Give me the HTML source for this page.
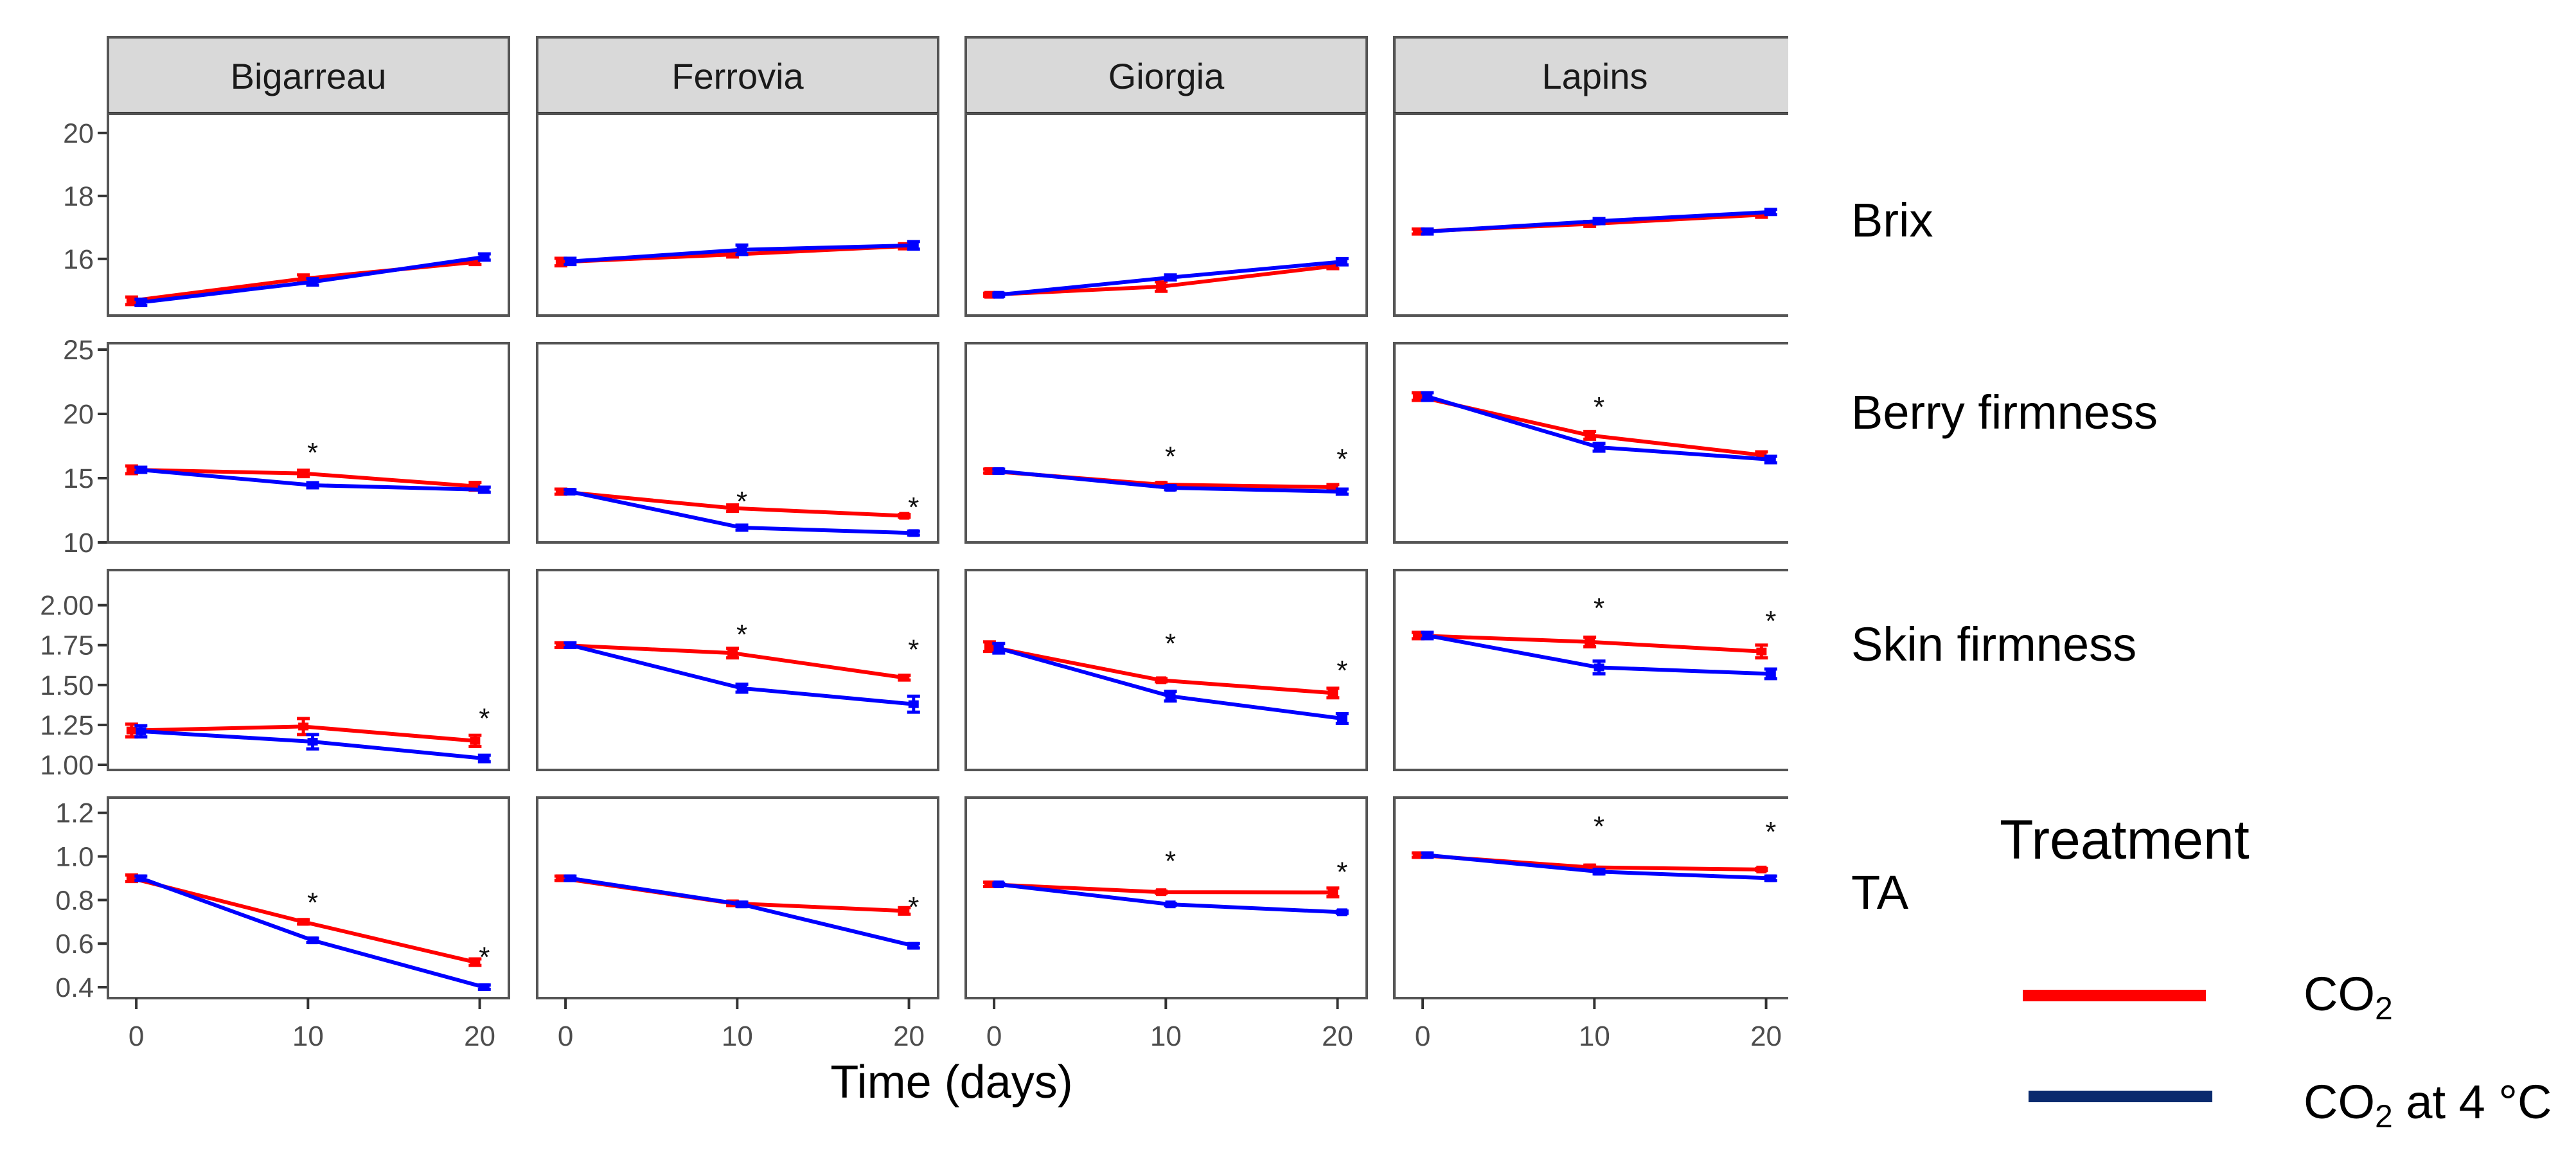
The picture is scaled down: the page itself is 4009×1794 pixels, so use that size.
<!DOCTYPE html>
<html><head><meta charset="utf-8"><style>
html,body{margin:0;padding:0;background:#fff}
svg{display:block}
text{font-family:"Liberation Sans",sans-serif}
</style></head><body>
<svg id="chart" width="4009" height="1794" viewBox="0 0 4009 1794" xmlns="http://www.w3.org/2000/svg">
<g id="panels"></g>
<rect x="2783" y="40" width="40" height="1530" fill="#fff"/>
<text x="1481" y="1708" font-size="72" text-anchor="middle" fill="#000">Time (days)</text>
<g font-size="74" fill="#000">
<text x="2881" y="368">Brix</text>
<text x="2881" y="667">Berry firmness</text>
<text x="2881" y="1028">Skin firmness</text>
<text x="2881" y="1414">TA</text>
</g>
<g>
<text x="3112" y="1336" font-size="86" fill="#000">Treatment</text>
<line x1="3148" y1="1549" x2="3433" y2="1549" stroke="#ff0000" stroke-width="18"/>
<text x="3585" y="1572" font-size="74" fill="#000">CO<tspan font-size="50" dy="14">2</tspan></text>
<line x1="3157" y1="1706" x2="3443" y2="1706" stroke="#0a2a6e" stroke-width="18"/>
<text x="3585" y="1740" font-size="74" fill="#000">CO<tspan font-size="50" dy="14">2</tspan><tspan dy="-14"> at 4 °C</tspan></text>
</g>
</svg>
<script>
const cultivars = ["Bigarreau","Ferrovia","Giorgia","Lapins"];
const variables = ["Brix","Berry firmness","Skin firmness","TA"];
const days = [0,10,20];
// CO2 (red) means [row][cultivar][day]
const co2 = [
 [[14.67,15.37,15.9],[15.9,16.14,16.4],[14.86,15.12,15.77],[16.87,17.11,17.4]],
 [[15.65,15.37,14.37],[13.95,12.67,12.07],[15.55,14.5,14.3],[21.35,18.33,16.8]],
 [[1.215,1.24,1.15],[1.75,1.70,1.546],[1.74,1.53,1.45],[1.81,1.77,1.71]],
 [[0.90,0.70,0.515],[0.90,0.785,0.75],[0.872,0.836,0.835],[1.006,0.95,0.94]]
];
const co2Err = [
 [[0.12,0.12,0.08],[0.12,0.08,0.08],[0.05,0.15,0.08],[0.08,0.08,0.08]],
 [[0.3,0.25,0.3],[0.2,0.25,0.1],[0.15,0.15,0.2],[0.3,0.3,0.25]],
 [[0.04,0.05,0.035],[0.015,0.03,0.015],[0.03,0.01,0.03],[0.02,0.03,0.04]],
 [[0.015,0.01,0.015],[0.01,0.01,0.015],[0.01,0.005,0.02],[0.01,0.01,0.005]]
];
// CO2 at 4 C (blue)
const co24 = [
 [[14.62,15.27,16.06],[15.92,16.29,16.43],[14.86,15.41,15.91],[16.87,17.2,17.49]],
 [[15.65,14.45,14.1],[13.95,11.15,10.73],[15.55,14.25,13.95],[21.35,17.4,16.45]],
 [[1.21,1.145,1.04],[1.75,1.48,1.38],[1.73,1.43,1.29],[1.81,1.61,1.57]],
 [[0.90,0.615,0.40],[0.90,0.78,0.59],[0.872,0.78,0.744],[1.006,0.93,0.90]]
];
const co24Err = [
 [[0.1,0.1,0.1],[0.1,0.15,0.12],[0.05,0.08,0.1],[0.08,0.08,0.08]],
 [[0.2,0.2,0.2],[0.15,0.2,0.15],[0.15,0.15,0.2],[0.3,0.3,0.25]],
 [[0.035,0.045,0.02],[0.015,0.025,0.05],[0.03,0.03,0.03],[0.02,0.04,0.03]],
 [[0.01,0.01,0.01],[0.01,0.01,0.01],[0.005,0.005,0.005],[0.01,0.01,0.01]]
];
// significance stars: [row, cultivar, day, y-value]
const stars = [
 [1,0,10,17.35],[1,1,10,13.55],[1,1,20,13.1],[1,2,10,17.05],[1,2,20,16.85],[1,3,10,20.9],
 [2,0,20,1.32],[2,1,10,1.845],[2,1,20,1.75],[2,2,10,1.79],[2,2,20,1.62],[2,3,10,2.01],[2,3,20,1.93],
 [3,0,10,0.81],[3,0,20,0.56],[3,1,20,0.79],[3,2,10,1.0],[3,2,20,0.95],[3,3,10,1.16],[3,3,20,1.134]
];
const yTicks = [[16,18,20],[10,15,20,25],[1.00,1.25,1.50,1.75,2.00],[0.4,0.6,0.8,1.0,1.2]];
const yTickLabels = [["16","18","20"],["10","15","20","25"],["1.00","1.25","1.50","1.75","2.00"],["0.4","0.6","0.8","1.0","1.2"]];
const xTicks = [0,10,20];
const xTickLabels = ["0","10","20"];
const yDomains = [[14.2,20.61],[10.0,25.5],[0.968,2.22],[0.35,1.27]];

const NS="http://www.w3.org/2000/svg";
const G=document.getElementById('panels');
const rowTop=[177,534,887,1241], rowBot=[491,844,1198,1553];
const panelLeft=[168,836,1503,2170], panelW=624;
const xDomain=[-1.65,21.7];
function mk(tag,attrs,parent){const e=document.createElementNS(NS,tag);for(const k in attrs)e.setAttribute(k,attrs[k]);(parent||G).appendChild(e);return e;}
function xs(c,v){return panelLeft[c]+(v-xDomain[0])/(xDomain[1]-xDomain[0])*panelW;}
function ys(r,v){const d=yDomains[r];return rowBot[r]-(v-d[0])/(d[1]-d[0])*(rowBot[r]-rowTop[r]);}
const dodge=0.27;

for(let c=0;c<4;c++){
 const s=mk('rect',{x:panelLeft[c],y:58,width:panelW,height:119,fill:'#d9d9d9',stroke:'#555','stroke-width':4});
 
 
 const l=mk('line',{x1:panelLeft[c],x2:panelLeft[c]+panelW,y1:177,y2:177,stroke:'#222','stroke-width':6});
 
 
 const t=mk('text',{x:panelLeft[c]+panelW/2,y:138,'font-size':56,'text-anchor':'middle',fill:'#1a1a1a'});
 t.textContent=cultivars[c];
 
 
}
for(let r=0;r<4;r++){
 yTicks[r].forEach((v,i)=>{
  const y=ys(r,v);
  const tk=mk('line',{x1:152,x2:168,y1:y,y2:y,stroke:'#333','stroke-width':4});
  
  
  const tl=mk('text',{x:146,y:y+15,'font-size':43,'text-anchor':'end',fill:'#4d4d4d'});
  tl.textContent=yTickLabels[r][i];
  
  
 });
 for(let c=0;c<4;c++){
  const p=mk('rect',{x:panelLeft[c],y:rowTop[r],width:panelW,height:rowBot[r]-rowTop[r],fill:'#fff',stroke:'#555','stroke-width':4});
  
  
  const series=[[co2,co2Err,'#ff0000',-dodge,'co2'],[co24,co24Err,'#0000ff',dodge,'co2-4c']];
  series.forEach(([vals,errs,col,dx,nm])=>{
   const pts=days.map((d,i)=>xs(c,d+dx)+','+ys(r,vals[r][c][i])).join(' ');
   const pl=mk('polyline',{points:pts,fill:'none',stroke:col,'stroke-width':6,'stroke-linejoin':'round'});
   
   
   days.forEach((d,i)=>{
    const x=xs(c,d+dx),v=vals[r][c][i],e=errs[r][c][i];
    const y1=ys(r,v+e),y2=ys(r,v-e);
    const eb=mk('path',{d:`M${x-10},${y1}H${x+10}M${x},${y1}V${y2}M${x-10},${y2}H${x+10}`,stroke:col,'stroke-width':5,fill:'none'});
    
    
    const pt=mk('rect',{x:x-8,y:ys(r,v)-6,width:16,height:12,fill:col});
    
    
   });
  });
 }
}
stars.forEach(([r,c,d,v])=>{
 const t=mk('text',{x:xs(c,d+dodge),y:ys(r,v)+22,'font-size':44,'text-anchor':'middle',fill:'#111'});
 t.textContent='*';
 
 
});
for(let c=0;c<4;c++){
 xTicks.forEach((v,i)=>{
  const x=xs(c,v);
  const tk=mk('line',{x1:x,x2:x,y1:1553,y2:1570,stroke:'#333','stroke-width':4});
  
  
  const tl=mk('text',{x:x,y:1627,'font-size':44,'text-anchor':'middle',fill:'#4d4d4d'});
  tl.textContent=xTickLabels[i];
  
  
 });
}
</script>
</body></html>
